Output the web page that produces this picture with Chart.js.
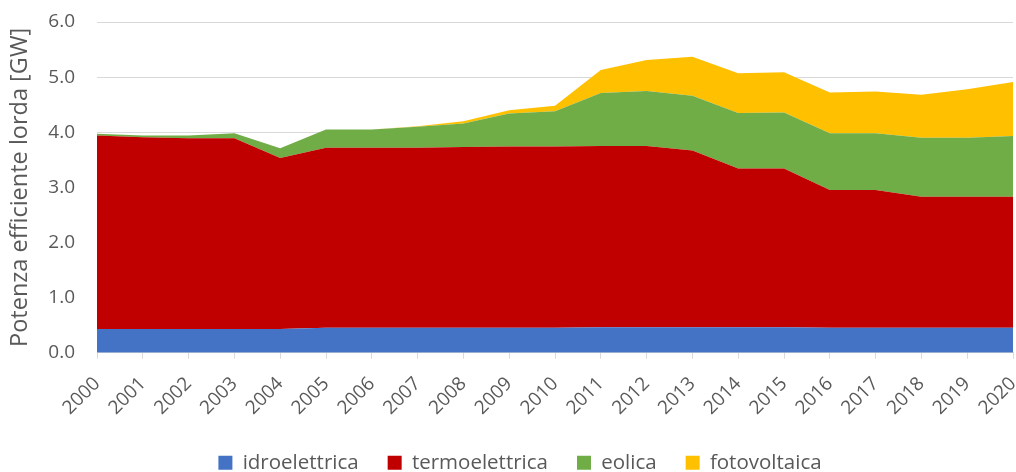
<!DOCTYPE html>
<html>
<head>
<meta charset="utf-8">
<script src="https://cdn.jsdelivr.net/npm/chart.js@4/dist/chart.umd.min.js"></script>
<style>
  html, body { margin: 0; padding: 0; background: #fff; }
  #wrap { width: 1016px; height: 472px; overflow: hidden; position: relative; }
  /* canvas un po' piu' alto della finestra: la legenda scende come nell'originale */
  #box { position: absolute; left: 0; top: 0; width: 1016px; height: 483px; }
</style>
</head>
<body>
<div id="wrap"><div id="box"><canvas id="chart"></canvas></div></div>
<script>
// anni
const anni = ["2000","2001","2002","2003","2004","2005","2006","2007","2008","2009","2010",
  "2011","2012","2013","2014","2015","2016","2017","2018","2019","2020"];

// potenza efficiente lorda [GW] per fonte
const idroelettrica = [0.43,0.43,0.43,0.43,0.43,0.45,0.45,0.45,0.45,0.45,0.45,
  0.46,0.46,0.46,0.46,0.46,0.45,0.45,0.45,0.45,0.45];
const termoelettrica = [3.51,3.48,3.46,3.46,3.10,3.27,3.27,3.27,3.28,3.29,3.29,
  3.29,3.29,3.21,2.88,2.88,2.50,2.50,2.38,2.38,2.38];
const eolica = [0.03,0.03,0.05,0.09,0.18,0.33,0.33,0.38,0.43,0.60,0.64,
  0.96,1.00,0.99,1.01,1.02,1.03,1.03,1.07,1.07,1.10];
const fotovoltaica = [0,0,0,0,0,0,0,0.01,0.04,0.06,0.10,
  0.42,0.56,0.71,0.72,0.73,0.74,0.76,0.78,0.88,0.98];

const FONT = "'Open Sans'";
const GRIGIO = "#595959";

function serie(label, data, colore, fill) {
  return {
    label: label,
    data: data,
    backgroundColor: colore,
    borderColor: colore,
    borderWidth: 0,
    pointRadius: 0,
    tension: 0,
    fill: fill
  };
}

// sposta la legenda un po' a destra, come nel grafico originale
const spostaLegenda = {
  id: "spostaLegenda",
  afterLayout(chart) {
    chart.legend.left += 9;
    chart.legend.right += 9;
  }
};

new Chart(document.getElementById("chart"), {
  type: "line",
  data: {
    labels: anni,
    datasets: [
      serie("idroelettrica", idroelettrica, "#4472C4", "origin"),
      serie("termoelettrica", termoelettrica, "#C00000", "-1"),
      serie("eolica", eolica, "#70AD47", "-1"),
      serie("fotovoltaica", fotovoltaica, "#FFC000", "-1")
    ]
  },
  plugins: [spostaLegenda],
  options: {
    responsive: true,
    maintainAspectRatio: false,
    animation: false,
    layout: { padding: { left: 6, right: 0, top: 0, bottom: 0 } },
    plugins: {
      legend: {
        position: "bottom",
        labels: {
          boxWidth: 14,
          boxHeight: 14,
          padding: 29,
          color: GRIGIO,
          font: { family: FONT, size: 20.5 }
        }
      },
      tooltip: { enabled: false }
    },
    scales: {
      x: {
        offset: false,
        // etichette piu' in basso senza allargare il margine destro
        afterFit: s => { s.height -= 10; s.paddingRight = 3; },
        grid: {
          drawOnChartArea: false,
          drawTicks: true,
          tickLength: 6,
          color: "#d9d9d9"
        },
        border: { color: "#d9d9d9", width: 1 },
        ticks: {
          color: GRIGIO,
          maxRotation: 45,
          minRotation: 45,
          autoSkip: false,
          padding: 14,
          font: { family: FONT, size: 19 }
        }
      },
      y: {
        stacked: true,
        min: 0,
        max: 6,
        afterFit: s => { s.width = 91; s.paddingTop = 22; },
        grid: { color: "#d9d9d9", drawTicks: false },
        border: { display: false },
        ticks: {
          stepSize: 1,
          padding: 22,
          color: GRIGIO,
          font: { family: FONT, size: 19 },
          callback: v => v.toFixed(1)
        },
        title: {
          display: true,
          text: "Potenza efficiente lorda [GW]",
          color: GRIGIO,
          padding: 0,
          font: { family: FONT, size: 23.5 }
        }
      }
    }
  }
});
</script>
</body>
</html>
